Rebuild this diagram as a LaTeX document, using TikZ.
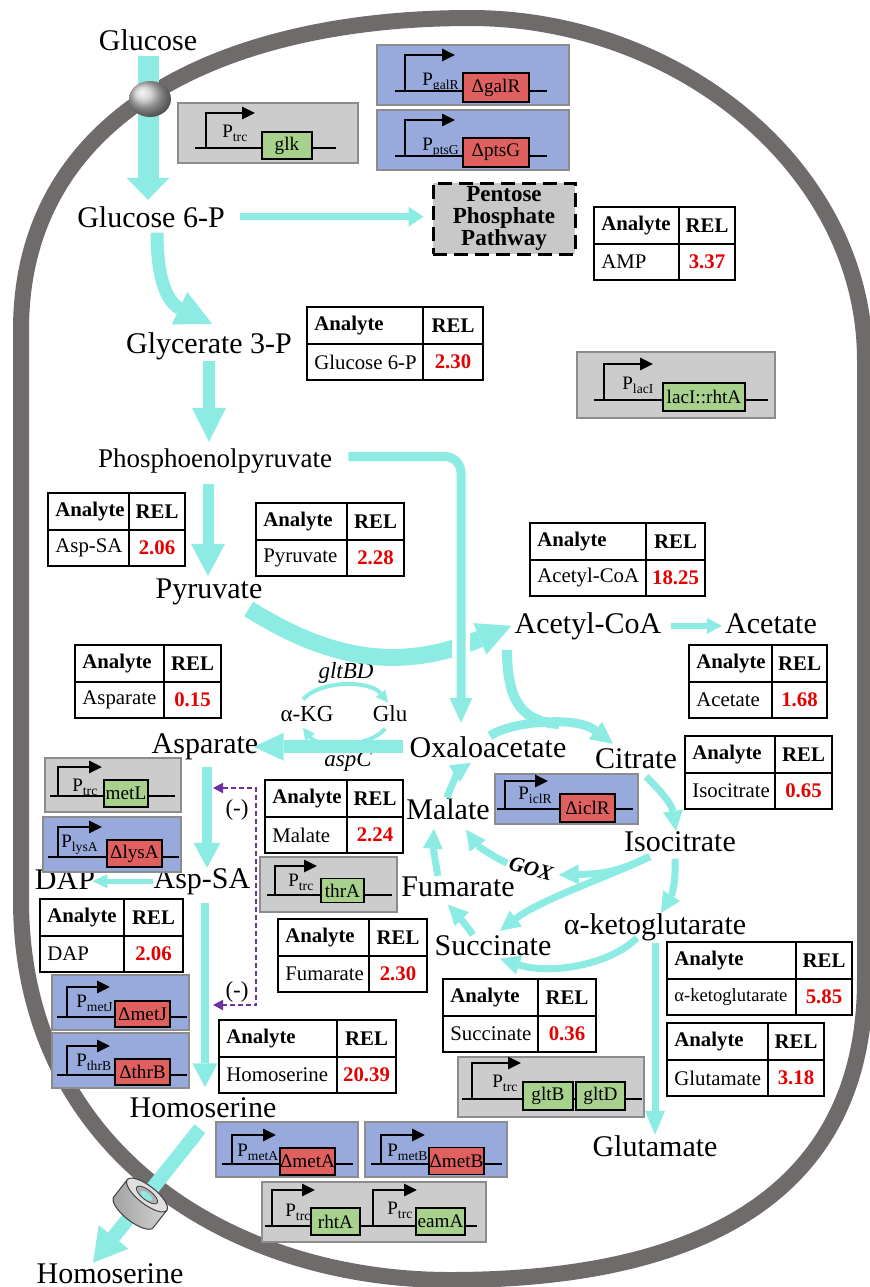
\documentclass[tikz,border=0pt]{standalone}
\usepackage{fontspec}
\setmainfont{Liberation Serif}
\usetikzlibrary{arrows.meta}

\definecolor{flowc}{RGB}{140,236,228}
\definecolor{membc}{RGB}{112,107,107}
\definecolor{cgray}{RGB}{204,204,204}
\definecolor{cblue}{RGB}{152,170,219}
\definecolor{cborder}{RGB}{140,140,140}
\definecolor{ggreen}{RGB}{169,209,142}
\definecolor{gred}{RGB}{224,96,96}
\definecolor{relred}{RGB}{230,0,0}
\definecolor{inhc}{RGB}{112,48,160}
\definecolor{pppfill}{RGB}{200,200,200}

\tikzset{
  met/.style={font=\fontsize{15}{18}\selectfont, inner sep=0pt, anchor=base},
  minor/.style={font=\fontsize{11.5}{13}\selectfont, inner sep=0pt, anchor=base},
  flow/.style={draw=flowc, line width=#1},
  ahead/.style 2 args={-{Triangle[width=#1,length=#2,line width=0pt]}},
  tca/.style={flow=3.5pt, ahead={10pt}{10pt}},
  memb/.style={draw=membc, line width=8pt},
  tabline/.style={line width=1pt},
  tabhead/.style={font=\fontsize{10.4}{12}\selectfont\bfseries, inner sep=0pt},
  tabtext/.style={font=\fontsize{10.4}{12}\selectfont, inner sep=0pt},
  tabval/.style={font=\fontsize{10.4}{12}\selectfont\bfseries, text=relred, inner sep=0pt},
  cbox/.style={draw=cborder, line width=0.8pt, fill=#1, inner sep=0pt},
  dna/.style={line width=1.2pt},
  prom/.style={line width=1.4pt, -{Triangle[length=6.5pt,width=6pt]}},
  plab/.style={font=\fontsize{9.5}{10}\selectfont, inner sep=0pt, anchor=base west},
  gene/.style={draw, line width=0.9pt, fill=#1, font=\fontsize{9.6}{10}\selectfont, inner sep=0pt, minimum height=13.5pt},
  inhib/.style={draw=inhc, line width=1pt, dash pattern=on 2.5pt off 1.5pt},
  ppbox/.style={draw, line width=1.5pt, dash pattern=on 7pt off 3.5pt, fill=pppfill, minimum width=71pt, minimum height=35.5pt, align=center, font=\fontsize{11.5}{10.8}\selectfont\bfseries, inner sep=0pt},
}

% promoter name
\newcommand{\prm}[1]{P\raisebox{-2pt}{\fontsize{6.8}{7}\selectfont #1}}

% analyte table: name, left, top, width 1, width 2, analyte, REL
\newcommand{\reltab}[7]{%
  \begin{scope}[shift={(#2,#3)}]
    \draw[tabline] (0,0) rectangle (#4+#5,73);
    \draw[tabline] (#4,0) -- (#4,73) (0,36.5) -- (#4+#5,36.5);
    \node[tabhead, anchor=west] (#1-a) at (7,18.5) {Analyte};
    \node[tabhead] (#1-r) at (#4+#5/2,18.5) {REL};
    \node[tabtext, anchor=west] (#1) at (7,55) {#6};
    \node[tabval] (#1-v) at (#4+#5/2,55) {#7};
  \end{scope}}

\begin{document}
\begin{tikzpicture}[x=0.5pt, y=-0.5pt]
\useasboundingbox (0,0) rectangle (870,1287);
\fill[white] (0,0) rectangle (870,1287);

% cell
\draw[memb] (21,560) -- (21,330) .. controls (21,110) and (230,18) .. (470,18)
  .. controls (680,18) and (865,170) .. (865,360) -- (865,980)
  .. controls (865,1180) and (720,1280) .. (450,1280)
  .. controls (230,1280) and (21,1150) .. (21,900) -- cycle;

% metabolites
\node[met] (glcout) at (148,50) {Glucose};
\node[met] (g6p) at (151,227) {Glucose 6-P};
\node[met] (g3p) at (209,353) {Glycerate 3-P};
\node[met, font=\fontsize{13.5}{16}\selectfont] (pep) at (215,467) {Phosphoenolpyruvate};
\node[met] (pyr) at (209,598) {Pyruvate};
\node[met] (accoa) at (588,633) {Acetyl-CoA};
\node[met] (ac) at (771,633) {Acetate};
\node[met] (oaa) at (488,757) {Oxaloacetate};
\node[met] (cit) at (636,768) {Citrate};
\node[met] (icit) at (680,851) {Isocitrate};
\node[met] (mal) at (448,819) {Malate};
\node[met] (fum) at (458,896) {Fumarate};
\node[met] (suc) at (493,955) {Succinate};
\node[met] (akg) at (655,934) {α-ketoglutarate};
\node[met] (glu) at (655,1156) {Glutamate};
\node[met] (asp) at (205,753) {Asparate};
\node[met] (aspsa) at (202,888) {Asp-SA};
\node[met] (dap) at (65,889) {DAP};
\node[met] (hom) at (203,1117) {Homoserine};
\node[met] (homout) at (110,1283) {Homoserine};
\node[minor] (akgs) at (307,721) {α-KG};
\node[minor] (glus) at (390,721) {Glu};
\node[minor, font=\fontsize{11.5}{13}\selectfont\itshape] (gltbd) at (346,678) {gltBD};
\node[minor, font=\fontsize{11.5}{13}\selectfont\itshape] (aspc) at (348,766) {aspC};
\node[font=\fontsize{10.5}{12}\selectfont\bfseries\itshape, inner sep=0pt, rotate=-15] (gox) at (531,869) {GOX};
\node[ppbox] (ppp) at (504,218.5) {Pentose\\Phosphate\\Pathway};

% glycolysis
\draw[flow=10.5pt, ahead={21.5pt}{11pt}, shorten <=2.5pt, shorten >=3pt] (glcout.south) -- (glcout.south |- g6p.north);
\draw[flow=3.5pt, ahead={10pt}{7.5pt}, shorten <=7.5pt, shorten >=4pt] (g6p.east) -- (g6p.east -| ppp.west);
\draw[flow=6.5pt, ahead={18pt}{18pt}] ([xshift=3pt,yshift=-2.5pt]g6p.south) .. controls (157,295) and (175,306) .. ([xshift=1.5pt,yshift=4pt]g3p.north);
\draw[flow=6pt, ahead={17pt}{17pt}, shorten <=0.5pt, shorten >=3pt] (g3p.south) -- (g3p.south |- pep.north);
\draw[flow=5.5pt, ahead={17pt}{16pt}, shorten <=5.5pt, shorten >=1pt] ([xshift=-3.5pt]pep.south) -- ([xshift=-3.5pt]pep.south |- pyr.north);
\draw[flow=8.5pt, ahead={17pt}{17pt}] ([xshift=-7pt,yshift=-2pt]pyr.south east) .. controls (330,660) and (400,672) .. ([xshift=-1.5pt]accoa.west);
\draw[white, line width=9pt] (461,631) -- (461,657);
\draw[flow=4.5pt, ahead={11.5pt}{12.5pt}, rounded corners=8pt, shorten <=8pt, shorten >=6.5pt] ([yshift=2pt]pep.east) -| ([xshift=-13.5pt]oaa.north);
\draw[flow=3pt, ahead={8pt}{7.5pt}, shorten <=4.5pt, shorten >=1.5pt] (accoa.east) -- (accoa.east -| ac.west);

% TCA cycle
\coordinate (citjoin) at (559,724);
\draw[flow=5pt, shorten <=5pt] ([xshift=-40.5pt]accoa.south) .. controls (507,705) and (525,722) .. (citjoin);
\draw[flow=4.5pt, ahead={11pt}{11pt}] ([xshift=1pt]oaa.north) .. controls (510,722) and (575,715) .. ([xshift=-11.5pt,yshift=2pt]cit.north);
\draw[tca] ([xshift=5pt,yshift=-4pt]cit.south) .. controls (662,792) and (672,805) .. ([xshift=-2pt]icit.north);
\draw[tca] ([xshift=-2.5pt,yshift=-3.5pt]icit.south) .. controls (676,880) and (672,895) .. ([xshift=3pt]akg.north);
\draw[tca] ([xshift=-15pt,yshift=-2.5pt]icit.south) .. controls (600,880) and (540,900) .. ([xshift=3.5pt,yshift=2pt]suc.north);
\draw[tca] ([xshift=-16pt,yshift=-2.5pt]icit.south) .. controls (620,872) and (600,874) .. ([xshift=3pt]gox.east);
\draw[tca] ([xshift=-1pt]gox.west) .. controls (490,855) and (477,845) .. ([xshift=9pt,yshift=-5pt]mal.south);
\draw[tca] ([xshift=-9pt,yshift=1.5pt]akg.south) .. controls (610,965) and (550,975) .. ([xshift=3.5pt,yshift=-1.5pt]suc.south);
\draw[tca] ([xshift=-10pt]suc.north) .. controls (466,925) and (455,912) .. ([xshift=-5pt,yshift=-4pt]fum.south);
\draw[tca] ([xshift=-10pt]fum.north) .. controls (435,860) and (433,845) .. ([xshift=-7pt,yshift=-4.5pt]mal.south);
\draw[tca] ([xshift=-0.5pt]mal.north) .. controls (452,783) and (460,770) .. ([xshift=-8.5pt,yshift=-2.5pt]oaa.south);
\draw[flow=3.5pt, ahead={10pt}{12pt}, shorten <=1pt] (akg.south) -- (akg.south |- glu.north);

% aspartate family
\draw[flow=6.5pt, ahead={14pt}{15pt}, shorten <=3pt, shorten >=-2.5pt] (oaa.west) -- (oaa.west -| asp.east);
\draw[flow=2pt, ahead={6pt}{6pt}] ([xshift=-2pt,yshift=3pt]akgs.north) .. controls (320,680) and (370,680) .. ([xshift=-1pt,yshift=1pt]glus.north);
\draw[flow=2pt, ahead={6pt}{6pt}] ([xshift=-2.5pt,yshift=-3.5pt]glus.south) .. controls (370,748) and (318,748) .. ([xshift=-2pt,yshift=-3pt]akgs.south);
\draw[flow=5pt, ahead={13.5pt}{12.5pt}, shorten <=3.5pt] ([xshift=1pt]asp.south) -- ([xshift=1pt]asp.south |- aspsa.north);
\draw[flow=2.5pt, ahead={7pt}{7.5pt}, shorten >=-1.5pt] (aspsa.west) -- (aspsa.west -| dap.east);
\draw[flow=4pt, ahead={12.5pt}{12pt}, shorten <=4pt, shorten >=4.75pt] ([xshift=1.5pt]aspsa.south) -- ([xshift=1.5pt]aspsa.south |- hom.north);
\draw[flow=7pt, ahead={19pt}{16.5pt}] ([xshift=-1.5pt,yshift=-5.5pt]hom.south) -- ([xshift=-8.5pt]homout.north);

% feedback inhibition
\coordinate (fbt) at (256,788);
\coordinate (fbb) at (256,1005);
\coordinate (fbta) at (213,788);
\coordinate (fbba) at (213,1005);
\draw[inhib, {Triangle[length=5pt,width=5pt]}-{Triangle[length=5pt,width=5pt]}] (fbta) -- (fbt) -- (fbb) -- (fbba);
\node[minor] (fbtl) at (237,815) {(-)};
\node[minor] (fbbl) at (237,997) {(-)};

% transporters
\shade[ball color=gray!45] (150,99) ellipse [x radius=21, y radius=18];
\begin{scope}[shift={(147,1195)}, rotate=-38]
  \shade[left color=gray!75, right color=gray!35, draw=gray!50!black, line width=0.5pt]
    (-25,0) -- (-25,22) arc[start angle=180, end angle=0, x radius=25, y radius=9] -- (25,0) -- cycle;
  \fill[gray!25, draw=gray!50!black, line width=0.5pt] (0,0) ellipse [x radius=25, y radius=9];
  \fill[gray!60, draw=gray!50!black, line width=0.4pt] (0,0) ellipse [x radius=13, y radius=5];
  \fill[flowc] (0,1) ellipse [x radius=7, y radius=3];
\end{scope}

% constructs
\node[cbox=cgray, minimum width=90pt, minimum height=30pt] (glkbox) at (268,133) {};
\draw[dna] (195,148) -- (336,148);
\draw[prom] (206,148) |- (255,113);
\node[plab] (pglk) at (222,137) {\prm{trc}};
\node[gene=ggreen, minimum width=25pt] (glk) at (287,145.5) {glk};

\node[cbox=cblue, minimum width=96pt, minimum height=30pt] (galRbox) at (473,75) {};
\draw[dna] (395,91) -- (547,91);
\draw[prom] (405,91) |- (455,55);
\node[plab] (pgalR) at (422,85) {\prm{galR}};
\node[gene=gred, minimum width=33pt, minimum height=14.5pt] (galR) at (496,87.5) {ΔgalR};

\node[cbox=cblue, minimum width=96pt, minimum height=30pt] (ptsGbox) at (473,140) {};
\draw[dna] (395,156) -- (547,156);
\draw[prom] (405,156) |- (455,120);
\node[plab] (pptsG) at (422,150) {\prm{ptsG}};
\node[gene=gred, minimum width=33pt, minimum height=14.5pt] (ptsG) at (496,152.5) {ΔptsG};

\node[cbox=cgray, minimum width=99pt, minimum height=33pt] (lacIbox) at (676,385) {};
\draw[dna] (594,400) -- (768,400);
\draw[prom] (604,400) |- (653,364);
\node[plab] (placI) at (622,389) {\prm{lacI}};
\node[gene=ggreen, minimum width=41pt, minimum height=14pt] (lacI) at (704,397) {lacI::rhtA};

\node[cbox=cgray, minimum width=68pt, minimum height=27pt] (metLbox) at (113,785) {};
\draw[dna] (50,796) -- (175,796);
\draw[prom] (58,796) |- (102,767);
\node[plab] (pmetL) at (72,791) {\prm{trc}};
\node[gene=ggreen, minimum width=22pt] (metL) at (126,793.5) {metL};

\node[cbox=cblue, minimum width=69pt, minimum height=27.5pt] (lysAbox) at (112,844.5) {};
\draw[dna] (48,857) -- (179,857);
\draw[prom] (58,857) |- (102,827);
\node[plab] (plysA) at (61,847) {\prm{lysA}};
\node[gene=gred, minimum width=27.5pt] (lysA) at (134.5,853.5) {ΔlysA};

\node[cbox=cgray, minimum width=68.5pt, minimum height=27.5pt] (thrAbox) at (328.5,884.5) {};
\draw[dna] (267,895) -- (392,895);
\draw[prom] (275,895) |- (317,866);
\node[plab] (pthrA) at (288,886) {\prm{trc}};
\node[gene=ggreen, minimum width=21.5pt, minimum height=12pt] (thrA) at (342.5,890.5) {thrA};

\node[cbox=cblue, minimum width=71.5pt, minimum height=25pt] (iclRbox) at (566.5,799) {};
\draw[dna] (497,809) -- (633,809);
\draw[prom] (505,809) |- (548,781);
\node[plab] (piclR) at (518,799) {\prm{iclR}};
\node[gene=gred, minimum width=27.5pt, minimum height=14pt] (iclR) at (587.5,808) {ΔiclR};

\node[cbox=cblue, minimum width=68.5pt, minimum height=27.5pt] (metJbox) at (120.5,1002.5) {};
\draw[dna] (57,1017) -- (187,1017);
\draw[prom] (67,1017) |- (110,987);
\node[plab] (pmetJ) at (76,1007) {\prm{metJ}};
\node[gene=gred, minimum width=27.5pt, minimum height=13pt] (metJ) at (142.5,1014) {ΔmetJ};

\node[cbox=cblue, minimum width=68.5pt, minimum height=27.5pt] (thrBbox) at (120.5,1060.5) {};
\draw[dna] (57,1075) -- (187,1075);
\draw[prom] (67,1075) |- (110,1046);
\node[plab] (pthrB) at (76,1066) {\prm{thrB}};
\node[gene=gred, minimum width=27.5pt, minimum height=13pt] (thrB) at (142.5,1072) {ΔthrB};

\node[cbox=cblue, minimum width=71pt, minimum height=27.5pt] (metAbox) at (287,1149.5) {};
\draw[dna] (222,1164) -- (353,1164);
\draw[prom] (232,1164) |- (276,1135);
\node[plab] (pmetA) at (237,1156) {\prm{metA}};
\node[gene=gred, minimum width=27.5pt] (metA) at (307.5,1161.5) {ΔmetA};

\node[cbox=cblue, minimum width=71pt, minimum height=27.5pt] (metBbox) at (436,1149.5) {};
\draw[dna] (371,1164) -- (502,1164);
\draw[prom] (381,1164) |- (425,1135);
\node[plab] (pmetB) at (387,1156) {\prm{metB}};
\node[gene=gred, minimum width=27.5pt] (metB) at (456.5,1161) {ΔmetB};

\node[cbox=cgray, minimum width=112pt, minimum height=30pt] (rhtAbox) at (374,1212) {};
\draw[dna] (265,1226) -- (477,1226);
\draw[prom] (272,1226) |- (315,1190);
\node[plab] (prhtA) at (285,1216) {\prm{trc}};
\node[gene=ggreen, minimum width=24.5pt] (rhtA) at (335.5,1221.5) {rhtA};
\draw[prom] (373,1226) |- (417,1190);
\node[plab] (peamA) at (387,1214) {\prm{trc}};
\node[gene=ggreen, minimum width=24.5pt] (eamA) at (440.5,1221.5) {eamA};

\node[cbox=cgray, minimum width=93pt, minimum height=30pt] (gltbox) at (551,1087) {};
\draw[dna] (462,1099) -- (642,1099);
\draw[prom] (472,1099) |- (521,1063);
\node[plab] (pglt) at (492,1087) {\prm{trc}};
\node[gene=ggreen, minimum width=25pt, minimum height=14pt] (gltB) at (548,1096) {gltB};
\node[gene=ggreen, minimum width=24.5pt, minimum height=14pt] (gltD) at (600.5,1096) {gltD};

% measured levels
\reltab{tamp}{594}{207}{85}{56}{AMP}{3.37}
\reltab{tg6p}{307}{307}{116}{60}{Glucose 6-P}{2.30}
\reltab{taspsa}{48}{493}{81}{56}{Asp-SA}{2.06}
\reltab{tpyr}{256}{503}{91}{57}{Pyruvate}{2.28}
\reltab{taccoa}{530}{523}{116}{59}{Acetyl-CoA}{18.25}
\reltab{tac}{689}{645}{83}{55}{Acetate}{1.68}
\reltab{tasp}{75}{645}{89}{57}{Asparate}{0.15}
\reltab{ticit}{685}{736}{90}{57}{Isocitrate}{0.65}
\reltab{tmal}{265}{780}{82}{56}{Malate}{2.24}
\reltab{tdap}{40}{899}{84}{59}{DAP}{2.06}
\reltab{tfum}{278}{919}{91}{58}{Fumarate}{2.30}
\reltab{takg}{667}{942}{129}{56}{{\fontsize{9.3}{11}\selectfont α-ketoglutarate}}{5.85}
\reltab{tsuc}{443}{979}{95}{58}{Succinate}{0.36}
\reltab{thom}{219}{1020}{118}{59}{Homoserine}{20.39}
\reltab{tglu}{667}{1023}{101}{56}{Glutamate}{3.18}

\end{tikzpicture}
\end{document}
